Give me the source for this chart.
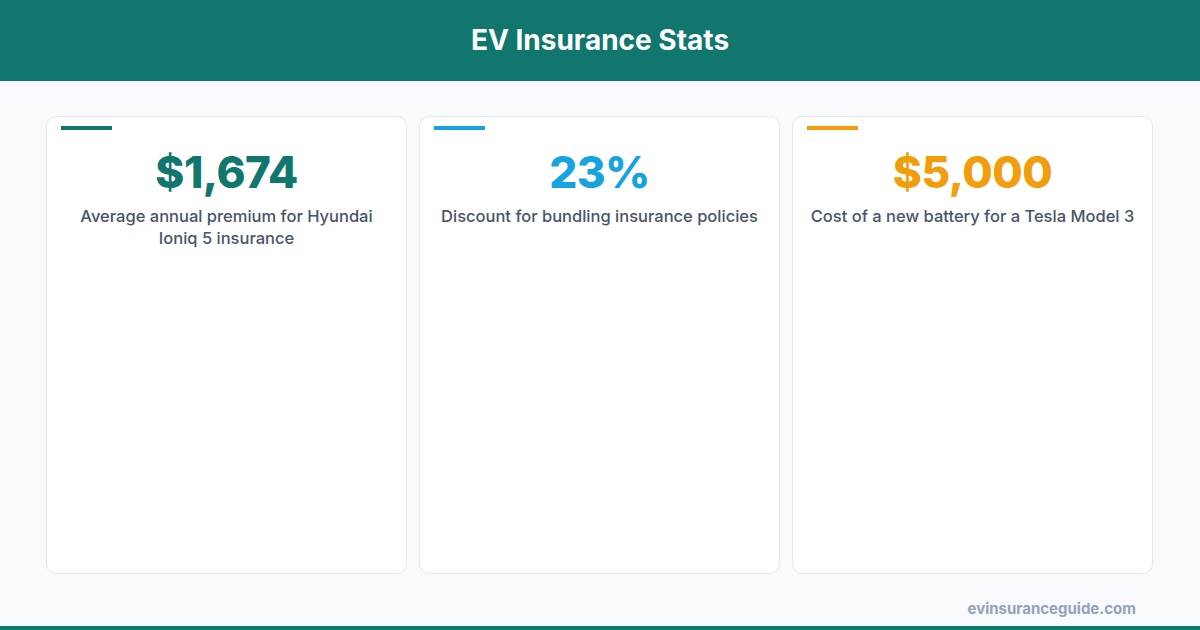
<!DOCTYPE html>
<html>
<head>
<meta charset="utf-8">
<script src="https://cdn.jsdelivr.net/npm/chart.js@4"></script>
<style>
  html, body { margin: 0; padding: 0; }
  body {
    width: 1200px; height: 630px; background: #f8fafc; position: relative; overflow: hidden;
    font-family: "Inter", "Open Sans", sans-serif;
  }
  .header {
    position: absolute; left: 0; top: 0; width: 1200px; height: 81px; background: #10766e;
    color: #fff; font-weight: 700; font-size: 28px; text-align: center; line-height: 81px;
  }
  .card {
    position: absolute; top: 116px; width: 361px; height: 458px; background: #fff;
    border: 1px solid #e2e8f0; border-radius: 10px; box-sizing: border-box;
  }
  .accent { position: absolute; left: 14px; top: 9px; width: 51px; height: 4px; }
  .value {
    position: absolute; top: 28px; width: 100%; text-align: center;
    font-size: 44px; font-weight: 800; letter-spacing: -0.5px;
  }
  .label {
    position: absolute; top: 88px; left: 16px; right: 16px; text-align: center;
    font-size: 16.5px; font-weight: 500; color: #475569; line-height: 22px;
  }
  .footer {
    position: absolute; right: 64px; top: 599px; font-size: 15px; font-weight: 700; color: #94a3b8;
  }
  .stripe { position: absolute; left: 0; top: 626px; width: 1200px; height: 4px; background: #10766e; }
</style>
</head>
<body>
<div class="header">EV Insurance Stats</div>
<div id="cards"></div>
<div class="footer">evinsuranceguide.com</div>
<div class="stripe"></div>
<script>
// Stat cards
const statValues = ['$1,674', '23%', '$5,000'];
const statLabels = [
    'Average annual premium for Hyundai Ioniq 5 insurance',
    'Discount for bundling insurance policies',
    'Cost of a new battery for a Tesla Model 3'
];
const statColors = ['#10766e', '#16a3de', '#f29e0c'];
const cardLefts = [46, 419, 792];

const cards = document.getElementById('cards');
cards.innerHTML = statValues.map((v, i) => `
    <div class="card" style="left:${cardLefts[i]}px">
        <div class="accent" style="background:${statColors[i]}"></div>
        <div class="value" style="color:${statColors[i]}">${v}</div>
        <div class="label">${statLabels[i]}</div>
    </div>
`).join('');
</script>
</body>
</html>
